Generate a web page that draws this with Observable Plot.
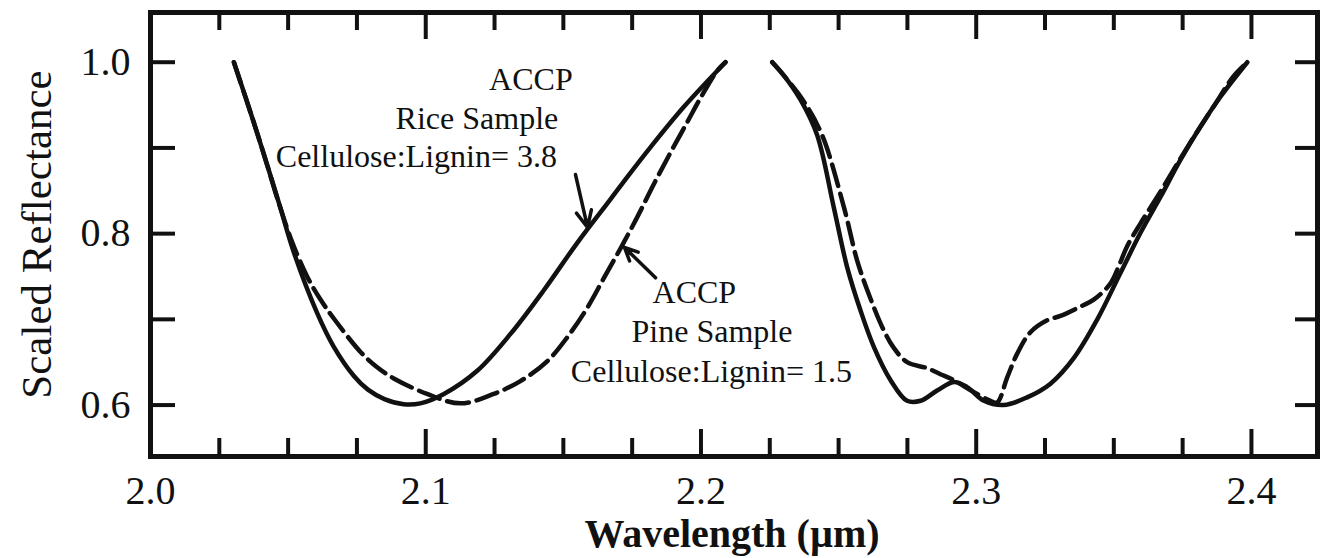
<!DOCTYPE html>
<html><head><meta charset="utf-8">
<script src="https://cdn.jsdelivr.net/npm/d3@7"></script>
<script src="https://cdn.jsdelivr.net/npm/@observablehq/plot@0.6"></script>
<style>body{margin:0;background:#fff} svg{font-family:"Liberation Serif", serif}</style>
</head><body><div id="chart"></div>
<script>
// ACCP Rice sample (solid), two spectral windows
const riceX1 = [2.0303, 2.0375, 2.0424, 2.0472, 2.0521, 2.0606, 2.0666, 2.0739, 2.0790, 2.0850, 2.0920, 2.0980, 2.1066, 2.1187, 2.1308, 2.1429, 2.1550, 2.1671, 2.1732, 2.1817, 2.1938, 2.2089];
const riceY1 = [1.000, 0.930, 0.880, 0.830, 0.778, 0.707, 0.668, 0.634, 0.618, 0.607, 0.601, 0.602, 0.613, 0.640, 0.683, 0.734, 0.789, 0.840, 0.866, 0.901, 0.948, 1.000];
const riceX2 = [2.2259, 2.2300, 2.2362, 2.2422, 2.2483, 2.2531, 2.2580, 2.2628, 2.2689, 2.2749, 2.2798, 2.2858, 2.2919, 2.2967, 2.3028, 2.3100, 2.3185, 2.3270, 2.3355, 2.3440, 2.3524, 2.3597, 2.3670, 2.3742, 2.3815, 2.3888, 2.3985];
const riceY2 = [1.000, 0.985, 0.956, 0.915, 0.830, 0.761, 0.710, 0.668, 0.629, 0.605, 0.605, 0.617, 0.627, 0.621, 0.605, 0.600, 0.609, 0.625, 0.655, 0.700, 0.754, 0.801, 0.843, 0.886, 0.925, 0.960, 1.000];
// ACCP Pine sample (dashed)
const pineX1 = [2.0303, 2.0375, 2.0424, 2.0460, 2.0509, 2.0569, 2.0620, 2.0666, 2.0763, 2.0820, 2.0884, 2.1005, 2.1126, 2.1247, 2.1344, 2.1441, 2.1514, 2.1586, 2.1647, 2.1708, 2.1768, 2.1829, 2.1890, 2.1950, 2.2005, 2.2059, 2.2089];
const pineY1 = [1.000, 0.930, 0.880, 0.842, 0.795, 0.750, 0.722, 0.701, 0.662, 0.645, 0.631, 0.613, 0.602, 0.613, 0.628, 0.651, 0.679, 0.713, 0.748, 0.783, 0.819, 0.858, 0.895, 0.930, 0.962, 0.990, 1.000];
const pineX2 = [2.2259, 2.2300, 2.2370, 2.2440, 2.2520, 2.2568, 2.2615, 2.2660, 2.2700, 2.2749, 2.2822, 2.2870, 2.2919, 2.2992, 2.3052, 2.3076, 2.3113, 2.3149, 2.3197, 2.3258, 2.3306, 2.3379, 2.3427, 2.3488, 2.3518, 2.3548, 2.3597, 2.3658, 2.3718, 2.3791, 2.3864, 2.3936, 2.3985];
const pineY2 = [1.000, 0.985, 0.956, 0.915, 0.830, 0.768, 0.725, 0.690, 0.667, 0.650, 0.643, 0.636, 0.629, 0.615, 0.605, 0.603, 0.6325, 0.660, 0.685, 0.699, 0.704, 0.715, 0.723, 0.742, 0.762, 0.785, 0.812, 0.843, 0.875, 0.913, 0.949, 0.984, 1.000];

// axis ticks
const xMajor = [2.0, 2.1, 2.2, 2.3, 2.4];
const xMajorTicks = [2.1, 2.2, 2.3, 2.4];
const xMinorTicks = [2.025, 2.05, 2.075, 2.125, 2.15, 2.175, 2.225, 2.25, 2.275, 2.325, 2.35, 2.375];
const yTicks = [0.6, 0.7, 0.8, 0.9, 1.0];
const yLabels = [0.6, 0.8, 1.0];

// annotations
const annoText = ["ACCP", "Rice Sample", "Cellulose:Lignin= 3.8", "ACCP", "Pine Sample", "Cellulose:Lignin= 1.5"];
const annoX = [2.1382, 2.1186, 2.0966, 2.1976, 2.2040, 2.2038];
const annoY = [0.9798, 0.9342, 0.8893, 0.7312, 0.6851, 0.6390];
const arrowX1 = [2.1544, 2.1835];
const arrowY1 = [0.869, 0.7484];
const arrowX2 = [2.1588, 2.1722];
const arrowY2 = [0.8072, 0.7840];

function seg(name, xs, ys) { return xs.map((x, i) => ({seg: name, x, y: ys[i]})); }
const rice = [...seg("a", riceX1, riceY1), ...seg("b", riceX2, riceY2)];
const pine = [...seg("a", pineX1, pineY1), ...seg("b", pineX2, pineY2)];
const anno = annoText.map((t, i) => ({t, x: annoX[i], y: annoY[i]}));
const arrows = arrowX1.map((d, i) => ({x1: d, y1: arrowY1[i], x2: arrowX2[i], y2: arrowY2[i]}));

const W = 1326, H = 558, mL = 150, mR = 9, mT = 12, mB = 102;
const fw = W - mL - mR, fh = H - mT - mB;
const fmt = d => d.toFixed(1);

const chart = Plot.plot({
  width: W, height: H,
  marginLeft: mL, marginRight: mR, marginTop: mT, marginBottom: mB,
  style: {fontFamily: "Liberation Serif", background: "white", color: "#111"},
  x: {domain: [2.0, 2.424]},
  y: {domain: [0.54, 1.058]},
  marks: [
    Plot.line(rice, {x: "x", y: "y", z: "seg", curve: "catmull-rom", stroke: "#111", strokeWidth: 4.5, strokeLinecap: "round"}),
    Plot.line(pine, {x: "x", y: "y", z: "seg", curve: "catmull-rom", stroke: "#111", strokeWidth: 4.5, strokeDasharray: "22,8"}),
    Plot.tickX(xMinorTicks, {x: d => d, insetTop: fh - 18, strokeWidth: 4, stroke: "#111"}),
    Plot.tickX(xMajorTicks, {x: d => d, insetTop: fh - 27, strokeWidth: 4, stroke: "#111"}),
    Plot.tickX(xMinorTicks, {x: d => d, insetBottom: fh - 18, strokeWidth: 4, stroke: "#111"}),
    Plot.tickX(xMajorTicks, {x: d => d, insetBottom: fh - 27, strokeWidth: 4, stroke: "#111"}),
    Plot.tickY(yTicks, {y: d => d, insetRight: fw - 25, strokeWidth: 4, stroke: "#111"}),
    Plot.tickY(yTicks, {y: d => d, insetLeft: fw - 22, strokeWidth: 4, stroke: "#111"}),
    Plot.frame({stroke: "#111", strokeWidth: 5}),
    Plot.axisX(xMajor, {tickSize: 0, tickPadding: 19, fontSize: 40, tickFormat: fmt, label: null}),
    Plot.axisY(yLabels, {tickSize: 0, tickPadding: 20, fontSize: 40, tickFormat: fmt, label: null}),
    Plot.text(["Wavelength (\u00b5m)"], {frameAnchor: "bottom", textAnchor: "middle", lineAnchor: "middle", dx: -2, dy: 78, fontSize: 40, fontWeight: "bold", fill: "#111"}),
    Plot.text(["Scaled Reflectance"], {frameAnchor: "left", textAnchor: "middle", lineAnchor: "middle", dx: -113, rotate: -90, fontSize: 43, fill: "#111"}),
    Plot.text(anno, {x: "x", y: "y", text: "t", fontSize: 32, fill: "#111"}),
    Plot.arrow(arrows, {x1: "x1", y1: "y1", x2: "x2", y2: "y2", stroke: "#111", strokeWidth: 3.5, headLength: 16, headAngle: 50})
  ]
});
document.getElementById("chart").append(chart);
</script>
</body></html>
